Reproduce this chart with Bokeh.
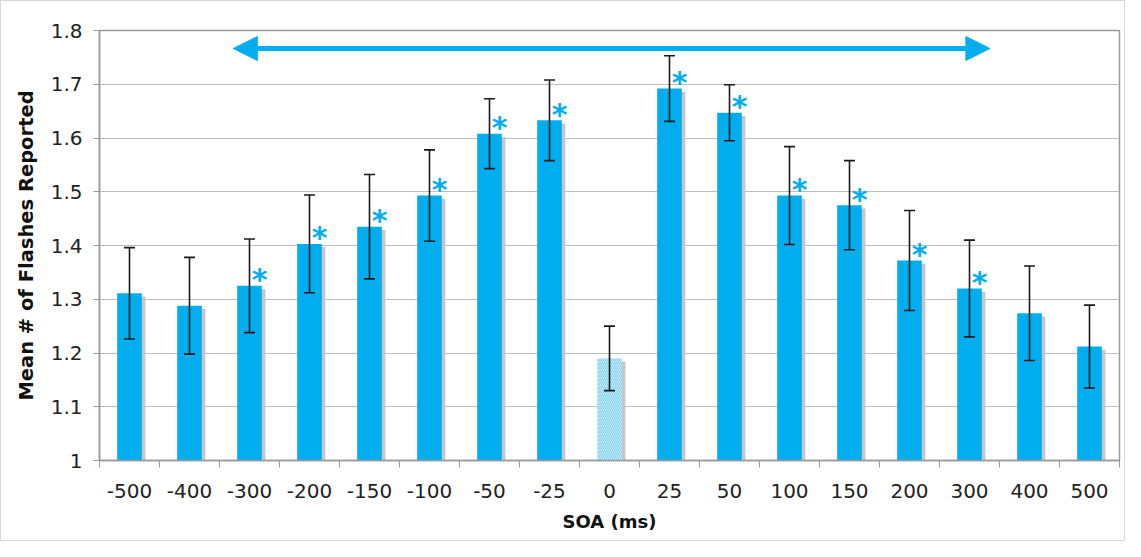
import numpy as np
from bokeh.plotting import figure
from bokeh.models import (Range1d, FixedTicker, CustomJSTickFormatter, Whisker, TeeHead,
                          Arrow, NormalHead, ColumnDataSource)
from bokeh.core.properties import value
from bokeh.embed import file_html
from bokeh.resources import INLINE

# ---- data ----
soa_labels = ["-500", "-400", "-300", "-200", "-150", "-100", "-50", "-25", "0",
              "25", "50", "100", "150", "200", "300", "400", "500"]
mean_flashes = [1.311, 1.288, 1.325, 1.403, 1.435, 1.493, 1.608, 1.633, 1.190,
                1.692, 1.647, 1.493, 1.475, 1.372, 1.320, 1.274, 1.212]
sem = [0.085, 0.090, 0.087, 0.091, 0.097, 0.085, 0.065, 0.075, 0.060,
       0.061, 0.052, 0.091, 0.083, 0.093, 0.090, 0.088, 0.077]
significant = [False, False, True, True, True, True, True, True, False,
               True, True, True, True, True, True, False, False]
y_ticks = [1.0, 1.1, 1.2, 1.3, 1.4, 1.5, 1.6, 1.7, 1.8]

CYAN = "#00AEEF"
FONT = "DejaVu Sans"

idx = np.arange(len(soa_labels))
vals = np.array(mean_flashes)
errs = np.array(sem)
is_baseline = np.array([lab == "0" for lab in soa_labels])

p = figure(width=1125, height=541, output_backend="svg", toolbar_location=None,
           x_range=Range1d(-0.5, len(soa_labels) - 0.5), y_range=Range1d(1.0, 1.8),
           min_border_left=98, min_border_top=29, min_border_right=7, min_border_bottom=82)
p.styles = {"border": "1px solid #d8d8d8"}

p.background_fill_color = "white"
p.border_fill_color = "white"
p.outline_line_color = "#9a9a9a"
p.outline_line_width = 1.5

# grid
p.xgrid.visible = False
p.ygrid.grid_line_color = "#bdbdbd"
p.ygrid.grid_line_width = 1.2

# shadows
p.vbar(x=idx + 0.06, bottom=1.0, top=vals - 0.006, width=0.41,
       fill_color="#c6c6c6", line_color=None)

# main bars
src_main = ColumnDataSource(dict(x=idx[~is_baseline], top=vals[~is_baseline]))
p.vbar(x="x", bottom=1.0, top="top", width=0.41, source=src_main,
       fill_color=CYAN, line_color=None)
src_base = ColumnDataSource(dict(x=idx[is_baseline], top=vals[is_baseline]))
p.vbar(x="x", bottom=1.0, top="top", width=0.41, source=src_base,
       fill_color="#c4e9f8", line_color=None,
       hatch_pattern="right_diagonal_line", hatch_color="#7fd2f2",
       hatch_scale=4, hatch_weight=1)

# error bars
err_src = ColumnDataSource(dict(x=idx, lower=vals - errs, upper=vals + errs))
wh = Whisker(base="x", lower="lower", upper="upper", source=err_src,
             line_color="#1a1a1a", line_width=1.6, level="overlay",
             upper_head=TeeHead(size=11, line_color="#1a1a1a", line_width=1.6),
             lower_head=TeeHead(size=11, line_color="#1a1a1a", line_width=1.6))
p.add_layout(wh)

# significance asterisks
sig = np.array(significant)
p.text(x=idx[sig] + 0.17, y=vals[sig], text=["*"] * int(sig.sum()),
       text_color=CYAN, text_font=value(FONT), text_font_style="bold",
       text_font_size="30px", text_align="center", text_baseline="alphabetic",
       y_offset=-6)

# double-headed arrow
p.add_layout(Arrow(x_start=1.73, x_end=14.34, y_start=1.7665, y_end=1.7665,
                   line_color=CYAN, line_width=5,
                   start=NormalHead(size=24, fill_color=CYAN, line_color=CYAN, line_width=1),
                   end=NormalHead(size=24, fill_color=CYAN, line_color=CYAN, line_width=1)))

# y axis
ya = p.yaxis[0]
ya.ticker = FixedTicker(ticks=y_ticks)
ya.formatter = CustomJSTickFormatter(code="return String(Math.round(tick*10)/10);")
ya.axis_label = "Mean # of Flashes Reported"
ya.axis_label_text_font = FONT
ya.axis_label_text_font_style = "bold"
ya.axis_label_text_font_size = "19.5px"
ya.axis_label_text_color = "#111111"
ya.axis_label_standoff = 10
ya.major_label_text_font = FONT
ya.major_label_text_font_size = "20px"
ya.major_label_text_color = "#222222"
ya.major_label_standoff = 11
ya.axis_line_color = "#9a9a9a"
ya.axis_line_width = 1.5
ya.major_tick_line_color = "#9a9a9a"
ya.major_tick_out = 6
ya.major_tick_in = 0
ya.minor_tick_line_color = None

# x axis
xa = p.xaxis[0]
xa.ticker = FixedTicker(ticks=list(idx), minor_ticks=list(np.arange(len(soa_labels) + 1) - 0.5))
xa.major_label_overrides = {int(i): lab for i, lab in zip(idx, soa_labels)}
xa.axis_label = "SOA (ms)"
xa.axis_label_text_font = FONT
xa.axis_label_text_font_style = "bold"
xa.axis_label_text_font_size = "18px"
xa.axis_label_text_color = "#111111"
xa.axis_label_standoff = 10
xa.major_label_text_font = FONT
xa.major_label_text_font_size = "20px"
xa.major_label_text_color = "#222222"
xa.major_label_standoff = 16
xa.axis_line_color = "#9a9a9a"
xa.axis_line_width = 1.5
xa.major_tick_out = 0
xa.major_tick_in = 0
xa.minor_tick_line_color = "#9a9a9a"
xa.minor_tick_out = 7
xa.minor_tick_in = 0

open("out.html", "w").write(file_html(p, INLINE))
